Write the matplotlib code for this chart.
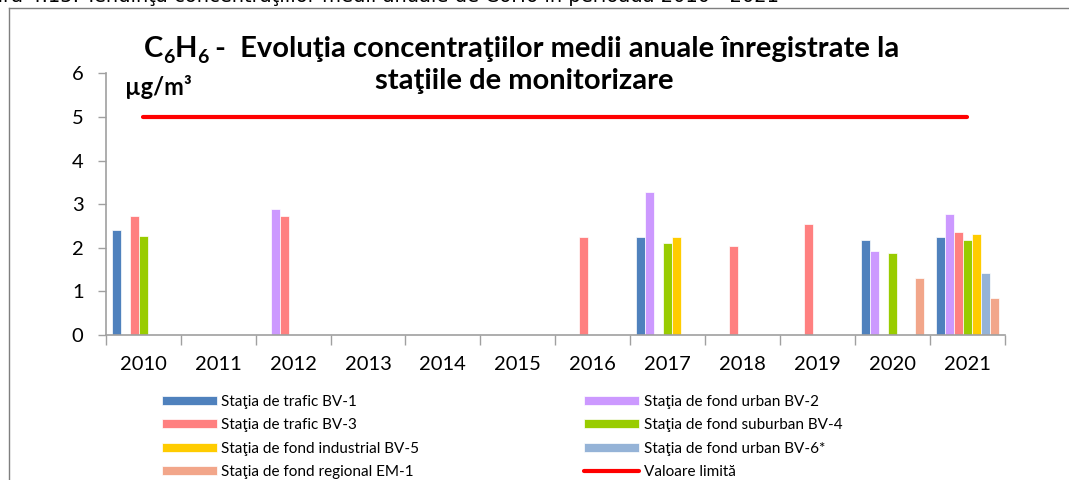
import numpy as np
import matplotlib
matplotlib.use("Agg")
import matplotlib.pyplot as plt
from matplotlib.lines import Line2D

# ------------------------------------------
# Data
# ------------------------------------------

years = ["2010", "2011", "2012", "2013", "2014", "2015",
         "2016", "2017", "2018", "2019", "2020", "2021"]

nan = np.nan
bv1 = [2.40, nan, nan, nan, nan, nan, nan, 2.25, nan, nan, 2.19, 2.25]
bv2 = [nan, nan, 2.88, nan, nan, nan, nan, 3.28, nan, nan, 1.93, 2.78]
bv3 = [2.72, nan, 2.72, nan, nan, nan, 2.25, nan, 2.04, 2.54, nan, 2.37]
bv4 = [2.28, nan, nan, nan, nan, nan, nan, 2.10, nan, nan, 1.89, 2.17]
bv5 = [nan, nan, nan, nan, nan, nan, nan, 2.25, nan, nan, nan, 2.31]
bv6 = [nan, nan, nan, nan, nan, nan, nan, nan, nan, nan, nan, 1.43]
em1 = [nan, nan, nan, nan, nan, nan, nan, nan, nan, nan, 1.31, 0.85]
limit = [5] * 12

series = [
    ("Staţia de trafic BV-1", bv1, "#4F81BD"),
    ("Staţia de fond urban BV-2", bv2, "#CC99FF"),
    ("Staţia de trafic BV-3", bv3, "#FF8080"),
    ("Staţia de fond suburban BV-4", bv4, "#99CC00"),
    ("Staţia de fond industrial BV-5", bv5, "#FFCC00"),
    ("Staţia de fond urban BV-6*", bv6, "#95B3D7"),
    ("Staţia de fond regional EM-1", em1, "#F2A68A"),
]

plt.rcParams["font.family"] = ["Lato", "DejaVu Sans"]

fig = plt.figure(figsize=(10.69, 4.80), dpi=100)
ax = fig.add_axes([0.0989, 0.302, 0.8411, 0.545])

x = np.arange(len(years))
width = 0.119
handles = {}
for i, (name, vals, col) in enumerate(series):
    offset = (i - 3) * width
    handles[name] = ax.bar(x + offset, vals, width, color=col,
                           edgecolor="white", linewidth=0.5, label=name)

line, = ax.plot(x, limit, color="#FF0000", lw=3, solid_capstyle="round",
                label="Valoare limită")

# ------------------------------------------
# Axes styling
# ------------------------------------------

ax.set_xlim(-0.5, len(years) - 0.5)
ax.set_ylim(0, 6)
ax.set_yticks(range(0, 7))
ax.set_xticks(np.arange(-0.5, len(years), 1))
ax.set_xticklabels([])
ax.set_xticks(x, minor=True)
ax.set_xticklabels(years, minor=True)
ax.tick_params(axis="x", which="major", length=7, direction="out",
               color="#A0A0A0", width=1)
ax.tick_params(axis="x", which="minor", length=0, pad=15, labelsize=14.5)
ax.tick_params(axis="y", length=6, direction="out", color="#A0A0A0",
               width=1, pad=10, labelsize=14.5)

for side in ["top", "right"]:
    ax.spines[side].set_visible(False)
for side in ["left", "bottom"]:
    ax.spines[side].set_color("#A0A0A0")
    ax.spines[side].set_linewidth(1.2)

# ------------------------------------------
# Titles
# ------------------------------------------

# C6H6 built from pieces so the subscripts stay bold
fig.canvas.draw()
renderer = fig.canvas.get_renderer()
y1 = 1 - 57 / 480
title_rest = " -  Evoluţia concentraţiilor medii anuale înregistrate la"
parts = [("C", 0), ("6", 1), ("H", 0), ("6", 1), (title_rest, 0)]
xpos = 144 / 1069
for txt, sub in parts:
    t = fig.text(xpos, y1 - sub * 6 / 480, txt, ha="left", va="baseline",
                 fontsize=14 if sub else 21, fontweight="bold")
    bb = t.get_window_extent(renderer)
    xpos += bb.width / fig.bbox.width

fig.text(0.49, 1 - 89 / 480, "staţiile de monitorizare",
         ha="center", va="baseline", fontsize=21, fontweight="bold")
fig.text(125 / 1069, 1 - 95 / 480, "µg/m³",
         ha="left", va="baseline", fontsize=17, fontweight="bold")

# caption of the page, cut off at the top
fig.text(-0.035, 1 - 2 / 480,
         "Figura 4.15. Tendinţa concentraţiilor medii anuale de C6H6 în perioada 2010 - 2021",
         ha="left", va="baseline", fontsize=14, family="DejaVu Sans")

# chart frame
fig.add_artist(Line2D([9 / 1069, 9 / 1069], [0, 1 - 8 / 480],
                      transform=fig.transFigure, color="#7F7F7F", lw=1))
fig.add_artist(Line2D([9 / 1069, 1], [1 - 8 / 480, 1 - 8 / 480],
                      transform=fig.transFigure, color="#7F7F7F", lw=1))

# ------------------------------------------
# Legend
# ------------------------------------------

order = ["Staţia de trafic BV-1", "Staţia de trafic BV-3",
         "Staţia de fond industrial BV-5", "Staţia de fond regional EM-1",
         "Staţia de fond urban BV-2", "Staţia de fond suburban BV-4",
         "Staţia de fond urban BV-6*"]
h = [handles[n] for n in order] + [line]
labels = order + ["Valoare limită"]

fig.legend(h, labels, ncol=2, loc="upper left",
           bbox_to_anchor=(148 / 1069, 1 - 381 / 480),
           frameon=False, fontsize=11, handlelength=3.6, handleheight=0.55,
           labelspacing=0.62, columnspacing=10.8, handletextpad=0.3)

plt.savefig("out.png", dpi=100)
